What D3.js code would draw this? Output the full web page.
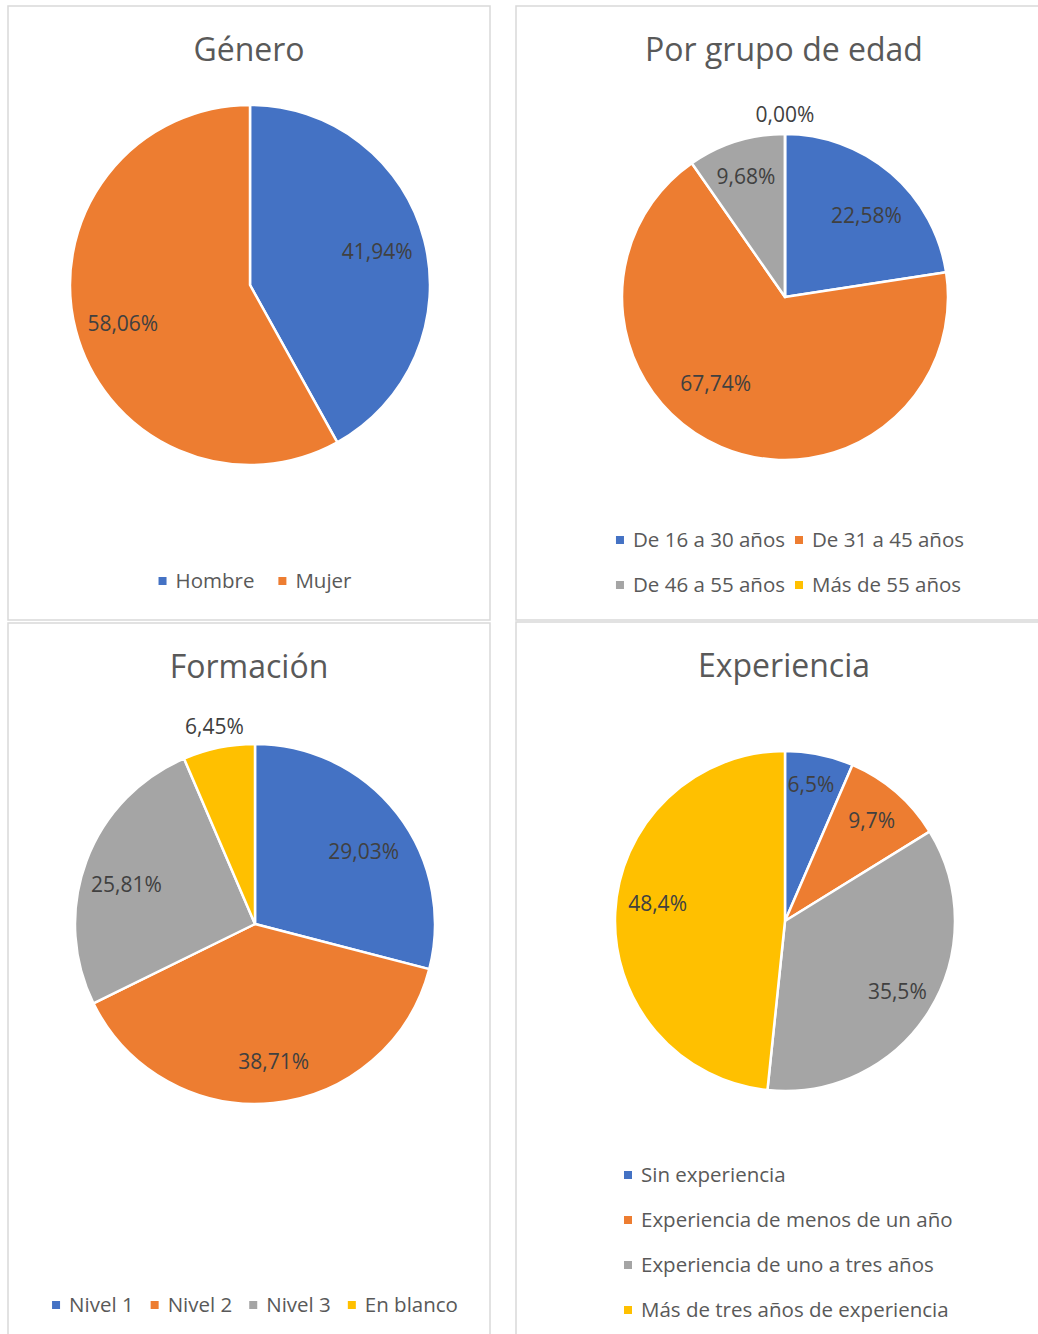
<!DOCTYPE html>
<html>
<head>
<meta charset="utf-8">
<script src="https://cdn.jsdelivr.net/npm/d3@7"></script>
<style>
  body { margin: 0; background: #fff; }
  svg { display: block; font-family: "Open Sans", sans-serif; }
</style>
</head>
<body>
<svg id="chart" width="1038" height="1334"></svg>
<script>
// data
const generoCats = ["Hombre", "Mujer"];
const generoValues = [41.94, 58.06];

const edadCats = ["De 16 a 30 años", "De 31 a 45 años", "De 46 a 55 años", "Más de 55 años"];
const edadValues = [22.58, 67.74, 9.68, 0.00];

const formacionCats = ["Nivel 1", "Nivel 2", "Nivel 3", "En blanco"];
const formacionValues = [29.03, 38.71, 25.81, 6.45];

const experienciaCats = ["Sin experiencia", "Experiencia de menos de un año", "Experiencia de uno a tres años", "Más de tres años de experiencia"];
const experienciaValues = [6.5, 9.7, 35.5, 48.4];

const colors = ["#4472C4", "#ED7D31", "#A5A5A5", "#FFC000"];

const es = d3.formatLocale({ decimal: ",", thousands: ".", grouping: [3], currency: ["", "€"] });

const svg = d3.select("#chart");

// panel frames
const panels = [
  { x: 8, y: 6, w: 482, h: 614 },
  { x: 516, y: 6, w: 540, h: 614 },
  { x: 8, y: 623, w: 482, h: 730 },
  { x: 516, y: 622, w: 540, h: 730 }
];
svg.selectAll("rect.panel")
  .data(panels)
  .join("rect")
  .attr("class", "panel")
  .attr("x", d => d.x)
  .attr("y", d => d.y)
  .attr("width", d => d.w)
  .attr("height", d => d.h)
  .attr("fill", "#fff")
  .attr("stroke", "#d9d9d9")
  .attr("stroke-width", 1.5);

function drawPie(cfg) {
  const g = svg.append("g");

  g.append("text")
    .attr("x", cfg.titleX)
    .attr("y", cfg.titleY)
    .attr("text-anchor", "middle")
    .attr("font-size", 32)
    .attr("fill", "#595959")
    .text(cfg.title);

  const data = cfg.cats.map((c, i) => ({ cat: c, value: cfg.values[i], color: colors[i] }));
  const pie = d3.pie().sort(null).value(d => d.value);
  const arcs = pie(data);
  const arc = d3.arc().innerRadius(0).outerRadius(cfg.r);

  const pg = g.append("g").attr("transform", `translate(${cfg.cx},${cfg.cy})`);

  pg.selectAll("path")
    .data(arcs)
    .join("path")
    .attr("d", arc)
    .attr("fill", d => d.data.color)
    .attr("stroke", "#fff")
    .attr("stroke-width", 2.5)
    .attr("stroke-linejoin", "round");

  // data labels, roughly where excel's "best fit" puts them
  const fmt = es.format(cfg.fmt);
  const nudge = cfg.nudge || {};
  pg.selectAll("text")
    .data(arcs)
    .join("text")
    .attr("transform", d => {
      const k = d.data.value < cfg.outsideBelow ? 1.12 : cfg.labelK;
      const a = (d.startAngle + d.endAngle) / 2;
      const [nx, ny] = nudge[d.data.cat] || [0, 0];
      return `translate(${Math.sin(a) * cfg.r * k + nx},${-Math.cos(a) * cfg.r * k + ny})`;
    })
    .attr("text-anchor", "middle")
    .attr("dy", "0.35em")
    .attr("font-size", 21)
    .attr("fill", "#404040")
    .text(d => fmt(d.data.value) + "%");

  // legend
  const lg = g.append("g");
  const items = lg.selectAll("g.item")
    .data(data)
    .join("g")
    .attr("class", "item");
  items.append("rect")
    .attr("width", 8)
    .attr("height", 8)
    .attr("y", -4)
    .attr("fill", d => d.color);
  items.append("text")
    .attr("x", 17)
    .attr("dy", "0.35em")
    .attr("font-size", 20.5)
    .attr("fill", "#595959")
    .text(d => d.cat);

  const widths = items.nodes().map(n => 17 + d3.select(n).select("text").node().getComputedTextLength());

  if (cfg.legend === "row") {
    const total = d3.sum(widths) + cfg.gap * (widths.length - 1);
    let x = cfg.legendX - total / 2;
    items.attr("transform", (d, i) => {
      const t = `translate(${x},${cfg.legendY})`;
      x += widths[i] + cfg.gap;
      return t;
    });
  } else if (cfg.legend === "grid") {
    const colW = d3.max(widths) + cfg.gap;
    const total = colW * 2 - cfg.gap;
    const x0 = cfg.legendX - total / 2;
    items.attr("transform", (d, i) =>
      `translate(${x0 + (i % 2) * colW},${cfg.legendY + Math.floor(i / 2) * cfg.rowH})`);
  } else {
    items.attr("transform", (d, i) => `translate(${cfg.legendX},${cfg.legendY + i * cfg.rowH})`);
  }
}

drawPie({
  title: "Género", titleX: 249, titleY: 61,
  cats: generoCats, values: generoValues, fmt: ".2f",
  cx: 250, cy: 285, r: 180, labelK: 0.73, outsideBelow: 0,
  nudge: { "Mujer": [0, 6] },
  legend: "row", legendX: 255, legendY: 581, gap: 24
});

drawPie({
  title: "Por grupo de edad", titleX: 784, titleY: 61,
  cats: edadCats, values: edadValues, fmt: ".2f",
  cx: 785, cy: 297, r: 163, labelK: 0.72, outsideBelow: 1,
  nudge: { "De 16 a 30 años": [5, 8], "De 31 a 45 años": [-23, -21], "De 46 a 55 años": [-4, -8] },
  legend: "grid", legendX: 790, legendY: 540, rowH: 45, gap: 10
});

drawPie({
  title: "Formación", titleX: 249, titleY: 678,
  cats: formacionCats, values: formacionValues, fmt: ".2f",
  cx: 255, cy: 924, r: 180, labelK: 0.75, outsideBelow: 7,
  nudge: { "Nivel 1": [2, 10], "Nivel 2": [5, 3], "Nivel 3": [-2, 8] },
  legend: "row", legendX: 255, legendY: 1305, gap: 17
});

drawPie({
  title: "Experiencia", titleX: 784, titleY: 677,
  cats: experienciaCats, values: experienciaValues, fmt: ".1f",
  cx: 785, cy: 921, r: 170, labelK: 0.78, outsideBelow: 0,
  nudge: { "Sin experiencia": [-1, -7], "Más de tres años de experiencia": [5, -10] },
  legend: "list", legendX: 624, legendY: 1175, rowH: 45
});
</script>
</body>
</html>
